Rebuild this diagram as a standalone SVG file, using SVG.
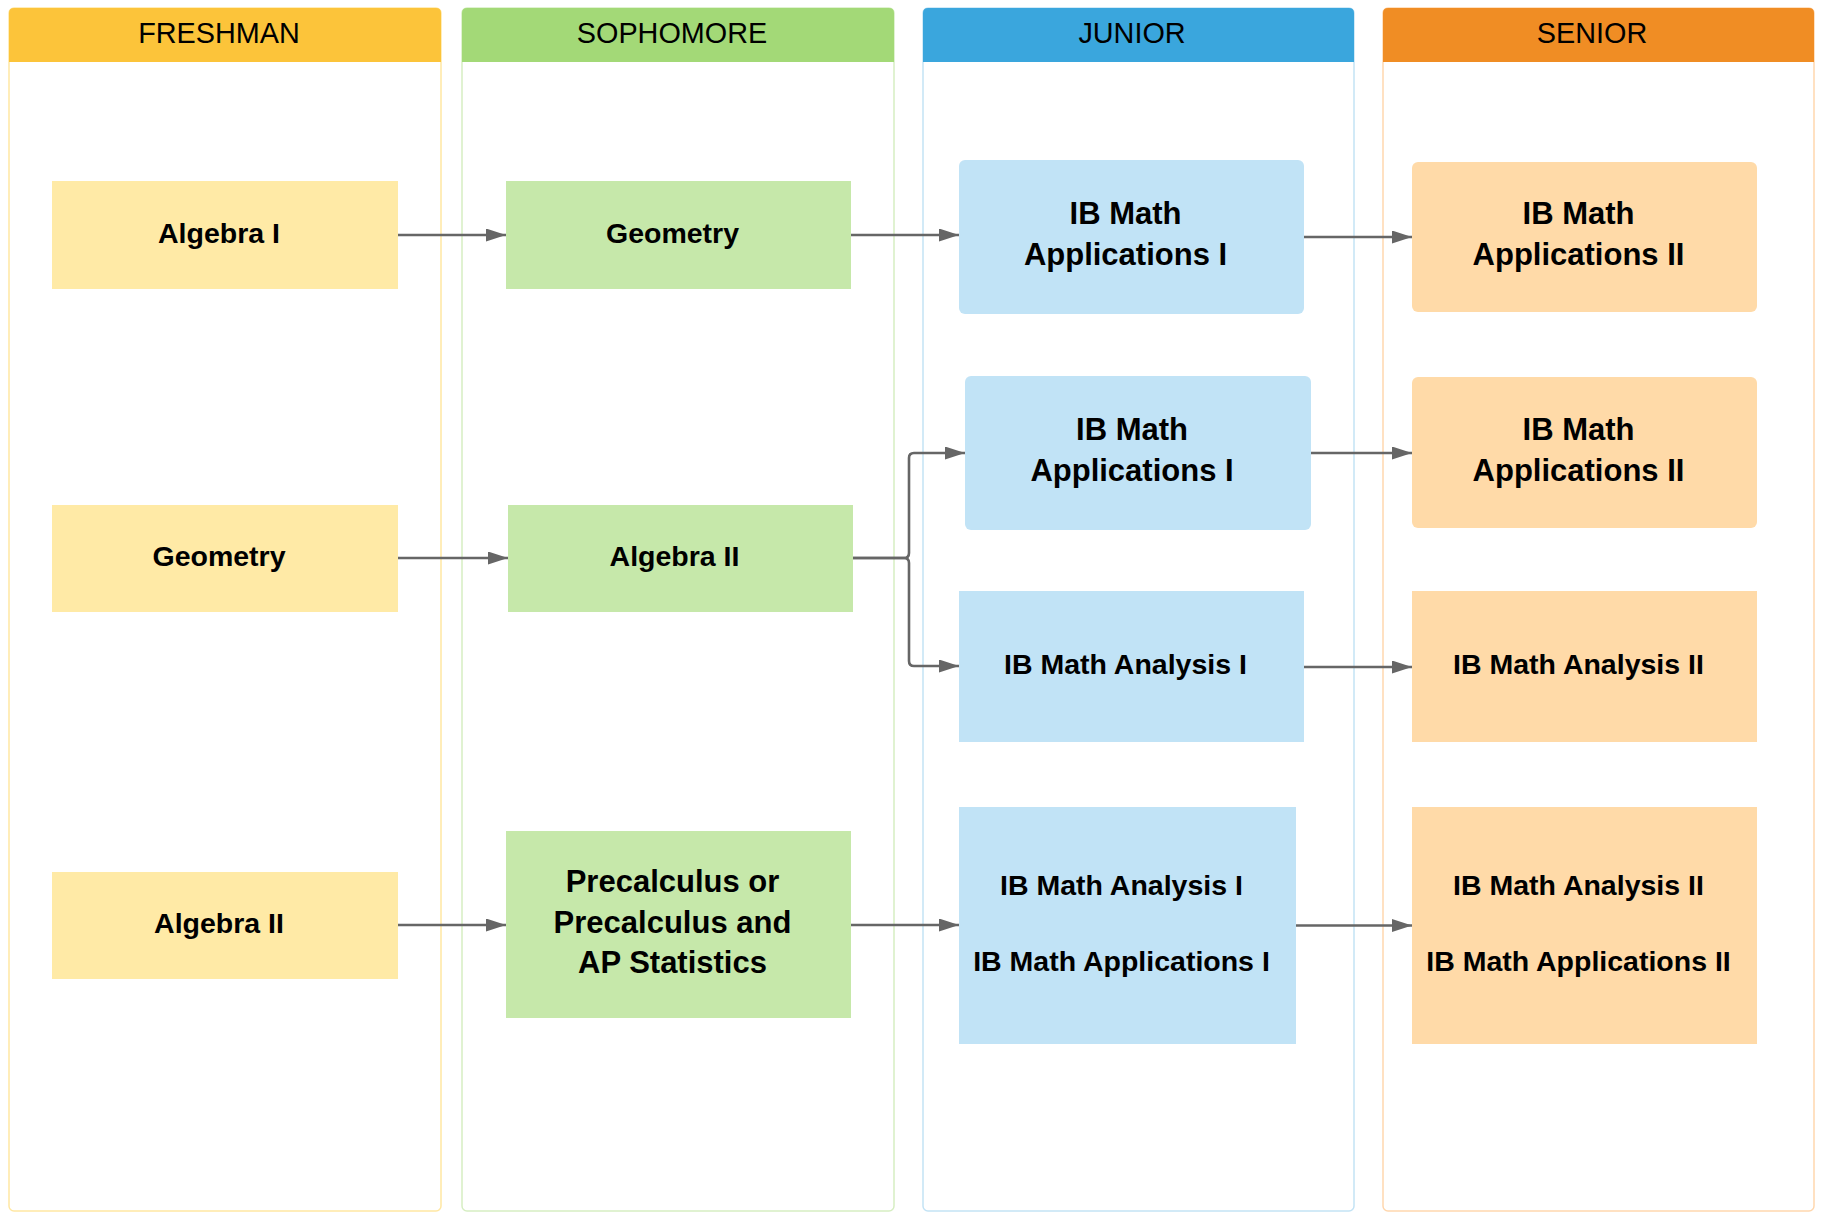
<svg xmlns="http://www.w3.org/2000/svg" width="1823" height="1213" viewBox="0 0 1823 1213">
<style>
text{font-family:"Liberation Sans",Arial,sans-serif;fill:#000;text-anchor:middle}
.hd{font-size:28.8px}
.nt{font-size:28.5px;font-weight:bold}
.big{font-size:31px}
.lane{fill:#fff;stroke-width:1.5}
.conn{fill:none;stroke:#666;stroke-width:2.6}
</style>
<defs>
<marker id="ah" markerUnits="userSpaceOnUse" markerWidth="21" markerHeight="14" refX="20" refY="6.5" orient="auto">
<path d="M0,0 L20,6.5 L0,13 z" fill="#666"/>
</marker>
</defs>
<rect width="1823" height="1213" fill="#fff"/>
<g id="lane-freshman">
<rect class="lane" x="9" y="8" width="432" height="1203" rx="5" stroke="#FFE7A3"/>
<path d="M9,62 V13 Q9,8 14,8 H436 Q441,8 441,13 V62 Z" fill="#FCC43A"/>
<text class="hd" x="219" y="43">FRESHMAN</text>
</g>
<g id="lane-sophomore">
<rect class="lane" x="462" y="8" width="432" height="1203" rx="5" stroke="#D6EEC2"/>
<path d="M462,62 V13 Q462,8 467,8 H889 Q894,8 894,13 V62 Z" fill="#A3D977"/>
<text class="hd" x="672" y="43">SOPHOMORE</text>
</g>
<g id="lane-junior">
<rect class="lane" x="923" y="8" width="431" height="1203" rx="5" stroke="#C3E3F5"/>
<path d="M923,62 V13 Q923,8 928,8 H1349 Q1354,8 1354,13 V62 Z" fill="#3AA6DD"/>
<text class="hd" x="1132" y="43">JUNIOR</text>
</g>
<g id="lane-senior">
<rect class="lane" x="1383" y="8" width="431" height="1203" rx="5" stroke="#FFD7AE"/>
<path d="M1383,62 V13 Q1383,8 1388,8 H1809 Q1814,8 1814,13 V62 Z" fill="#F08D24"/>
<text class="hd" x="1592" y="43">SENIOR</text>
</g>

<g id="connectors">
<path class="conn" d="M398,235 H506" marker-end="url(#ah)"/>
<path class="conn" d="M851,235 H959" marker-end="url(#ah)"/>
<path class="conn" d="M1304,237 H1412" marker-end="url(#ah)"/>
<path class="conn" d="M398,558 H508" marker-end="url(#ah)"/>
<path class="conn" d="M853,558 H904 Q909,558 909,553 V458 Q909,453 914,453 H965" marker-end="url(#ah)"/>
<path class="conn" d="M853,558 H904 Q909,558 909,563 V661 Q909,666 914,666 H959" marker-end="url(#ah)"/>
<path class="conn" d="M1311,453 H1412" marker-end="url(#ah)"/>
<path class="conn" d="M1304,667 H1412" marker-end="url(#ah)"/>
<path class="conn" d="M397,925 H506" marker-end="url(#ah)"/>
<path class="conn" d="M850,925 H959" marker-end="url(#ah)"/>
<path class="conn" d="M1296,925.5 H1412" marker-end="url(#ah)"/>
</g>

<g id="f-algebra1">
<rect x="52" y="181" width="346" height="108" fill="#FFEAA6"/>
<text class="nt" x="219" y="242.5">Algebra I</text>
</g>
<g id="s-geometry">
<rect x="506" y="181" width="345" height="108" fill="#C6E8AA"/>
<text class="nt" x="672.5" y="242.5">Geometry</text>
</g>
<g id="j-app1-a">
<rect x="959" y="160" width="345" height="154" rx="6" fill="#C1E3F6"/>
<text class="nt big" x="1125.5" y="224">IB Math</text>
<text class="nt big" x="1125.5" y="265">Applications I</text>
</g>
<g id="sn-app2-a">
<rect x="1412" y="162" width="345" height="150" rx="6" fill="#FFDAA8"/>
<text class="nt big" x="1578.5" y="224">IB Math</text>
<text class="nt big" x="1578.5" y="265">Applications II</text>
</g>

<g id="f-geometry">
<rect x="52" y="505" width="346" height="107" fill="#FFEAA6"/>
<text class="nt" x="219" y="566">Geometry</text>
</g>
<g id="s-algebra2">
<rect x="508" y="505" width="345" height="107" fill="#C6E8AA"/>
<text class="nt" x="674.5" y="566">Algebra II</text>
</g>
<g id="j-app1-b">
<rect x="965" y="376" width="346" height="154" rx="6" fill="#C1E3F6"/>
<text class="nt big" x="1132" y="440">IB Math</text>
<text class="nt big" x="1132" y="481">Applications I</text>
</g>
<g id="sn-app2-b">
<rect x="1412" y="377" width="345" height="151" rx="6" fill="#FFDAA8"/>
<text class="nt big" x="1578.5" y="440">IB Math</text>
<text class="nt big" x="1578.5" y="481">Applications II</text>
</g>
<g id="j-analysis1">
<rect x="959" y="591" width="345" height="151" fill="#C1E3F6"/>
<text class="nt" x="1125.5" y="674">IB Math Analysis I</text>
</g>
<g id="sn-analysis2">
<rect x="1412" y="591" width="345" height="151" fill="#FFDAA8"/>
<text class="nt" x="1578.5" y="674">IB Math Analysis II</text>
</g>

<g id="f-algebra2">
<rect x="52" y="872" width="346" height="107" fill="#FFEAA6"/>
<text class="nt" x="219" y="933">Algebra II</text>
</g>
<g id="s-precalc">
<rect x="506" y="831" width="345" height="187" fill="#C6E8AA"/>
<text class="nt big" x="672.5" y="892">Precalculus or</text>
<text class="nt big" x="672.5" y="932.5">Precalculus and</text>
<text class="nt big" x="672.5" y="973">AP Statistics</text>
</g>
<g id="j-combo">
<rect x="959" y="807" width="337" height="237" fill="#C1E3F6"/>
<text class="nt" x="1121.5" y="895">IB Math Analysis I</text>
<text class="nt" x="1121.5" y="971">IB Math Applications I</text>
</g>
<g id="sn-combo">
<rect x="1412" y="807" width="345" height="237" fill="#FFDAA8"/>
<text class="nt" x="1578.5" y="895">IB Math Analysis II</text>
<text class="nt" x="1578.5" y="971">IB Math Applications II</text>
</g>
</svg>
